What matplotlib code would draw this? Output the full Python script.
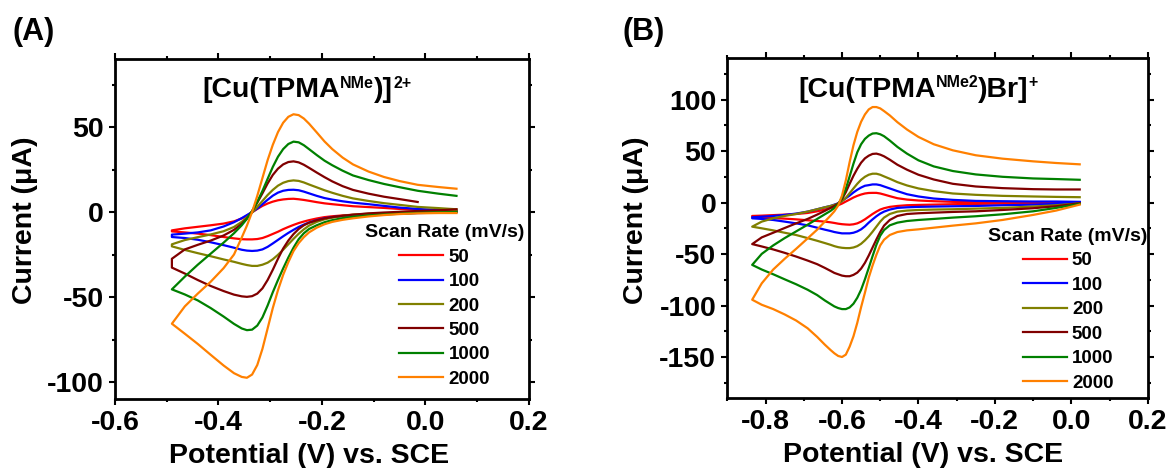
import matplotlib
matplotlib.use("Agg")
import numpy as np
import matplotlib.pyplot as plt
from matplotlib.ticker import MultipleLocator

plt.rcParams["font.family"] = ["Liberation Sans", "DejaVu Sans"]
plt.rcParams["font.weight"] = "bold"
plt.rcParams["axes.labelweight"] = "bold"
plt.rcParams["axes.unicode_minus"] = False

nan = float("nan")

scan_rates = [50, 100, 200, 500, 1000, 2000]
colors = ["#ff0000", "#0000ff", "#808000", "#800000", "#008000", "#ff8000"]

# ---- panel A: [Cu(TPMA^NMe)]2+, potential grid (V) and currents (uA)
E_A = [-0.49, -0.465, -0.44, -0.415, -0.39, -0.37, -0.355, -0.345, -0.335, -0.325,
       -0.315, -0.305, -0.295, -0.285, -0.275, -0.265, -0.255, -0.245, -0.235, -0.225,
       -0.21, -0.195, -0.18, -0.16, -0.14, -0.11, -0.08, -0.05, -0.015, 0.025, 0.06]

# cathodic sweep (lower branch)
A_cat_50 = [-11.4, -12.0, -12.7, -13.6, -14.7, -15.5, -16.0, -16.1, -16.1, -15.9,
            -15.3, -14.2, -12.9, -11.6, -10.1, -8.8, -7.6, -6.5, -5.6, -4.8,
            -3.8, -3.0, -2.5, -2.0, -1.6, -1.3, -1.0, -0.8, -0.4, -0.2, 0.0]
A_cat_100 = [-14.7, -15.3, -16.3, -17.8, -19.5, -21.0, -22.2, -22.7, -22.9, -22.7,
             -22.0, -20.5, -18.5, -16.4, -14.3, -12.3, -10.5, -8.8, -7.4, -6.2,
             -4.8, -3.7, -3.0, -2.4, -2.0, -1.6, -1.2, -0.9, -0.6, -0.4, 0.0]
A_cat_200 = [-20.2, -22.3, -24.2, -26.0, -27.9, -29.3, -30.5, -31.2, -31.7, -31.7,
             -31.0, -29.8, -27.8, -25.2, -22.2, -19.0, -15.8, -12.8, -10.2, -8.0,
             -5.8, -4.3, -3.3, -2.3, -1.6, -1.0, -0.7, -0.4, -0.2, 0.2, 0.6]
A_cat_500 = [-32.7, -36.2, -40.0, -43.5, -46.5, -48.6, -49.6, -49.9, -49.5, -48.0,
             -44.9, -40.0, -34.0, -27.5, -21.5, -16.8, -13.0, -10.0, -7.8, -6.3,
             -4.9, -3.8, -3.0, -2.2, -1.6, -0.8, -0.3, 0.1, 0.6, 1.0, 1.6]
A_cat_1000 = [-45.5, -48.5, -52.0, -56.5, -61.5, -65.8, -68.5, -69.5, -69.2, -66.8,
              -62.0, -55.0, -47.2, -40.0, -33.2, -26.8, -21.0, -16.0, -12.5, -10.0,
              -7.8, -6.0, -4.8, -3.6, -2.8, -2.0, -1.5, -1.0, -0.5, -0.2, 0.0]
A_cat_2000 = [-65.7, -71.6, -77.6, -84.0, -90.3, -94.8, -97.0, -97.5, -95.6, -90.0,
              -80.5, -68.5, -56.5, -46.0, -37.0, -29.5, -23.0, -18.3, -14.8, -12.0,
              -9.2, -7.2, -5.8, -4.6, -3.7, -2.6, -1.8, -1.2, -0.8, -0.6, -0.6]

# anodic sweep (upper branch)
A_an_50 = [-10.8, -9.6, -8.7, -7.8, -6.8, -5.5, -3.8, -2.2, -0.2, 1.8,
           3.6, 5.0, 6.1, 6.9, 7.4, 7.7, 7.8, 7.5, 7.1, 6.6,
           5.8, 5.1, 4.6, 4.0, 3.4, 2.9, 2.4, 1.8, 1.2, 0.8, 0.6]
A_an_100 = [-13.3, -12.7, -12.0, -10.8, -8.5, -6.0, -3.6, -1.8, 0.0, 2.0,
            4.6, 7.2, 9.6, 11.4, 12.5, 13.0, 13.1, 12.8, 12.0, 11.0,
            9.5, 8.2, 7.3, 6.3, 5.5, 4.6, 3.6, 2.6, 1.8, 1.2, 0.6]
A_an_200 = [-19.0, -16.5, -14.8, -13.2, -11.3, -8.8, -5.8, -3.2, -0.3, 3.0,
            6.5, 10.0, 13.0, 15.5, 17.2, 18.2, 18.6, 18.3, 17.4, 16.2,
            14.5, 12.8, 11.3, 9.5, 8.0, 6.5, 5.2, 4.2, 3.0, 2.3, 1.6]
A_an_500 = [-27.5, -22.0, -19.3, -16.8, -13.8, -10.5, -7.0, -3.8, 0.5, 5.5,
            11.0, 16.8, 21.8, 25.5, 28.0, 29.4, 29.8, 29.2, 27.8, 26.0,
            23.2, 20.5, 18.0, 15.2, 13.0, 10.8, 9.0, 7.6, 5.9, nan, nan]
A_an_1000 = [-45.5, -38.0, -31.0, -24.5, -18.0, -12.5, -7.8, -4.0, 0.5, 6.0,
             12.4, 19.5, 26.5, 32.5, 37.0, 40.0, 41.4, 41.0, 39.3, 37.0,
             33.5, 30.2, 27.5, 24.3, 21.5, 18.8, 16.5, 14.6, 12.5, 10.8, 9.5]
A_an_2000 = [-65.7, -55.5, -48.0, -41.0, -33.0, -25.0, -15.0, -8.0, 0.0, 9.5,
             20.0, 30.5, 39.5, 47.0, 52.5, 56.0, 57.5, 57.0, 55.0, 52.0,
             46.8, 41.5, 37.0, 32.0, 28.0, 23.8, 20.6, 18.2, 16.0, 14.7, 13.7]

# ---- panel B: [Cu(TPMA^NMe2)Br]+
E_B = [-0.835, -0.81, -0.78, -0.75, -0.72, -0.69, -0.665, -0.645, -0.63, -0.62,
       -0.61, -0.60, -0.59, -0.58, -0.57, -0.56, -0.55, -0.54, -0.53, -0.52,
       -0.51, -0.50, -0.49, -0.475, -0.455, -0.43, -0.40, -0.36, -0.31, -0.25,
       -0.18, -0.10, -0.04, 0.022]

B_cat_50 = [-13.8, -14.6, -15.1, -15.6, -16.3, -17.2, -17.9, -18.5, -19.2, -19.8,
            -20.5, -21.0, -21.3, -21.5, -21.1, -20.2, -18.5, -16.3, -13.7, -11.1,
            -8.8, -6.8, -5.5, -4.2, -3.3, -2.6, -2.3, -2.0, -1.6, -1.3,
            -1.0, -0.7, -0.3, 0.0]
B_cat_100 = [-15.3, -15.9, -16.9, -18.5, -20.2, -22.1, -24.4, -26.3, -27.6, -28.6,
             -29.3, -29.9, -29.9, -29.9, -29.3, -28.0, -26.0, -23.1, -19.5, -16.3,
             -13.3, -10.7, -8.8, -6.8, -5.2, -4.6, -4.2, -3.9, -3.6, -3.3,
             -2.6, -2.0, -1.3, -0.3]
B_cat_200 = [-23.4, -25.0, -27.0, -29.3, -31.5, -34.5, -37.1, -39.3, -41.0, -42.3,
             -43.3, -43.9, -44.2, -44.2, -43.6, -42.3, -40.0, -36.7, -32.8, -28.3,
             -23.4, -18.5, -14.6, -11.1, -8.8, -7.8, -7.2, -6.8, -6.5, -5.9,
             -5.2, -3.9, -2.6, -0.7]
B_cat_500 = [-40.3, -42.6, -45.5, -48.8, -52.4, -56.3, -59.8, -63.4, -66.3, -68.3,
             -69.6, -70.9, -71.5, -71.5, -70.2, -68.0, -64.1, -58.5, -51.4, -43.6,
             -35.8, -28.6, -22.4, -16.9, -13.0, -11.1, -10.4, -9.8, -9.1, -8.5,
             -7.2, -5.5, -3.6, -0.7]
B_cat_1000 = [-60.5, -65.0, -69.6, -74.5, -79.3, -84.6, -89.8, -95.0, -98.5, -100.8,
              -102.4, -103.4, -103.4, -101.8, -98.2, -92.4, -84.6, -74.5, -63.4, -52.0,
              -41.0, -32.2, -26.7, -22.1, -19.5, -17.9, -16.9, -15.9, -14.6, -13.3,
              -11.4, -8.5, -5.2, -1.3]
B_cat_2000 = [-94.3, -99.2, -103.4, -108.6, -114.5, -122.0, -130.4, -137.9, -143.1, -146.3,
              -148.9, -149.9, -147.6, -139.8, -129.8, -116.7, -101.5, -87.5, -72.8, -61.1,
              -50.7, -41.6, -36.1, -31.5, -28.6, -27.0, -26.0, -24.4, -22.4, -20.2,
              -16.9, -12.0, -7.8, -2.0]

B_an_50 = [-13.0, -12.7, -12.2, -11.7, -11.1, -10.1, -8.5, -6.8, -5.2, -3.9,
           -2.6, -1.0, 1.0, 2.9, 4.9, 6.5, 7.8, 8.8, 9.3, 9.4,
           9.4, 8.8, 7.8, 6.2, 4.2, 2.9, 2.0, 1.3, 0.7, 0.3,
           0.3, 0.2, 0.0, 0.0]
B_an_100 = [-14.3, -13.7, -13.0, -12.0, -10.7, -8.8, -6.5, -4.6, -3.3, -2.0,
            -0.7, 1.6, 4.2, 6.8, 9.8, 12.4, 14.6, 16.3, 16.9, 17.6,
            17.6, 16.9, 15.6, 13.7, 11.1, 8.1, 5.9, 3.9, 2.6, 1.6,
            1.3, 1.0, 1.0, 0.7]
B_an_200 = [-23.4, -18.5, -15.3, -13.0, -11.1, -8.8, -6.5, -4.6, -3.3, -2.3,
            -1.0, 1.3, 4.6, 9.1, 13.7, 18.2, 22.1, 25.0, 27.0, 28.0,
            28.0, 27.0, 25.4, 23.1, 19.8, 16.6, 13.7, 11.1, 8.8, 7.5,
            6.5, 5.9, 5.5, 5.2]
B_an_500 = [-40.3, -33.8, -29.3, -24.7, -20.2, -15.9, -11.7, -8.1, -5.2, -3.3,
            -1.0, 3.3, 10.1, 18.2, 26.0, 32.8, 38.7, 42.9, 45.5, 47.2,
            47.5, 46.5, 44.9, 41.6, 36.7, 31.9, 27.0, 22.4, 18.2, 15.6,
            14.0, 13.0, 12.7, 12.7]
B_an_1000 = [-60.5, -49.8, -41.6, -34.5, -28.0, -21.5, -15.9, -11.4, -8.1, -5.2,
             -1.6, 4.6, 13.3, 25.4, 37.7, 48.8, 56.6, 61.8, 65.0, 67.0,
             67.3, 66.3, 64.4, 60.2, 54.0, 47.5, 41.0, 35.1, 30.6, 27.3,
             25.0, 23.4, 22.8, 22.1]
B_an_2000 = [-94.3, -78.4, -65.0, -54.6, -44.9, -34.8, -26.3, -18.5, -12.7, -8.5,
             -2.9, 6.8, 21.5, 39.3, 55.6, 68.6, 78.4, 85.5, 90.4, 92.7,
             92.7, 91.4, 88.8, 84.6, 78.0, 70.9, 63.7, 56.6, 50.7, 45.9,
             42.6, 40.0, 38.4, 37.1]

A_cat = [A_cat_50, A_cat_100, A_cat_200, A_cat_500, A_cat_1000, A_cat_2000]
A_an = [A_an_50, A_an_100, A_an_200, A_an_500, A_an_1000, A_an_2000]
B_cat = [B_cat_50, B_cat_100, B_cat_200, B_cat_500, B_cat_1000, B_cat_2000]
B_an = [B_an_50, B_an_100, B_an_200, B_an_500, B_an_1000, B_an_2000]


def rich_text(ax, x, y, parts):
    # chain text pieces so superscripts sit right after the previous piece
    txt, size, rise = parts[0]
    t = ax.text(x, y, txt, transform=ax.transAxes, fontsize=size, ha="left", va="baseline")
    for txt, size, rise in parts[1:]:
        t = ax.annotate(txt, xy=(1, y), xycoords=(t, "axes fraction"), xytext=(0, rise),
                        textcoords="offset points", fontsize=size, ha="left", va="baseline")


def draw_panel(ax, grid, cat, an, xlim, ylim, leg_anchor, xlab_x):
    grid = np.array(grid)
    for rate, col, c, a in zip(scan_rates, colors, cat, an):
        # sweep goes right-to-left on the cathodic branch, then back
        e = np.concatenate([grid[::-1], grid])
        i = np.concatenate([np.array(c)[::-1], np.array(a)])
        ax.plot(e, i, color=col, lw=1.6, label=str(rate))
    ax.set_xlim(*xlim)
    ax.set_ylim(*ylim)
    ax.xaxis.set_major_locator(MultipleLocator(0.2))
    ax.xaxis.set_minor_locator(MultipleLocator(0.1))
    ax.yaxis.set_major_locator(MultipleLocator(50))
    ax.yaxis.set_minor_locator(MultipleLocator(25))
    ax.tick_params(which="both", direction="out", top=True, right=True, width=1.5,
                   labelsize=20.5)
    ax.tick_params(which="major", length=4.5, pad=3.5)
    ax.tick_params(which="minor", length=2.2)
    for s in ax.spines.values():
        s.set_linewidth(2)
    ax.set_xlabel("Potential (V) vs. SCE", fontsize=20.5)
    ax.set_ylabel("Current (\u03bcA)", fontsize=20.5)
    ax.xaxis.set_label_coords(xlab_x, -0.128)
    ax.yaxis.set_label_coords(-0.186, 0.525)
    ax.legend(title="Scan Rate (mV/s)", frameon=False, fontsize=13.5, title_fontsize=14,
              handlelength=2.35, handletextpad=0.27, labelspacing=0.39, borderpad=0,
              borderaxespad=0, loc="upper left", bbox_to_anchor=leg_anchor)


fig = plt.figure(figsize=(11.72, 4.68), dpi=100)
axA = fig.add_axes([0.0981, 0.1474, 0.3532, 0.7265])
axB = fig.add_axes([0.6206, 0.1489, 0.3587, 0.7265])

draw_panel(axA, E_A, A_cat, A_an, (-0.6, 0.2), (-110, 90), (0.604, 0.514), 0.469)
draw_panel(axB, E_B, B_cat, B_an, (-0.9, 0.2), (-190, 140), (0.621, 0.501), 0.465)

rich_text(axA, 0.212, 0.889, [("[Cu(TPMA", 20.5, 0), ("NMe", 11.5, 6), (")]", 20.5, 0), ("2+", 11.5, 6)])
rich_text(axB, 0.168, 0.887, [("[Cu(TPMA", 20.5, 0), ("NMe2", 11.5, 7), (")Br]", 20.5, 0), ("+", 11.5, 7)])

fig.text(12 / 1172, 1 - 40 / 468, "(A)", fontsize=22, va="baseline")
fig.text(623 / 1172, 1 - 40 / 468, "(B)", fontsize=22, va="baseline")

fig.savefig("out.png", dpi=100)
